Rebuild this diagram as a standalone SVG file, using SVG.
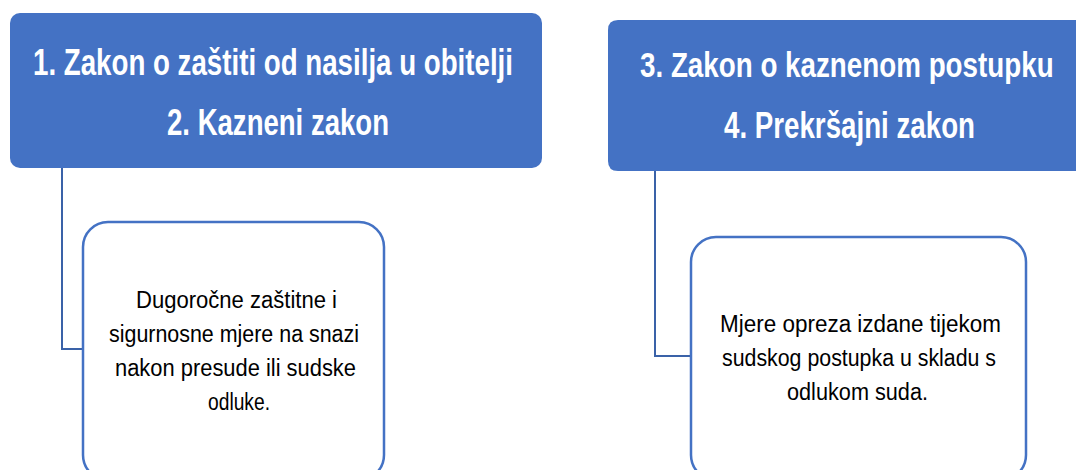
<svg xmlns="http://www.w3.org/2000/svg" width="1076" height="470" viewBox="0 0 1076 470">
<style>
.head{fill:#4472C4;}
.child{fill:#FFFFFF;stroke:#4472C4;stroke-width:2.5;}
.conn{fill:none;stroke:#3A62A8;stroke-width:2;}
.ht{font-family:"Liberation Sans",Arial,sans-serif;font-weight:bold;font-size:36px;fill:#FFFFFF;}
.ct{font-family:"Liberation Sans",Arial,sans-serif;font-size:23px;fill:#000000;}
</style>
<rect width="1076" height="470" fill="#FFFFFF"/>
<g id="connectors">
<path class="conn" d="M62 168 V349 H83"/>
<path class="conn" d="M655 171 V356 H691"/>
</g>
<g id="head1">
<rect class="head" x="10" y="13" width="532" height="155" rx="10"/>
<text class="ht" x="33" y="75" textLength="480" lengthAdjust="spacingAndGlyphs">1. Zakon o zaštiti od nasilja u obitelji</text>
<text class="ht" x="167" y="135" textLength="222" lengthAdjust="spacingAndGlyphs">2. Kazneni zakon</text>
</g>
<g id="head2">
<path class="head" d="M618 20 H1076 V171 H618 Q608 171 608 161 V30 Q608 20 618 20 Z"/>
<text class="ht" transform="translate(640,77) scale(0.772,1)" x="0" y="0">3. Zakon o kaznenom postupku</text>
<text class="ht" x="724" y="138" textLength="251" lengthAdjust="spacingAndGlyphs">4. Prekršajni zakon</text>
</g>
<g id="child1">
<rect class="child" x="83" y="222" width="301" height="258" rx="25"/>
<text class="ct" x="136" y="308" textLength="201" lengthAdjust="spacingAndGlyphs">Dugoročne zaštitne i</text>
<text class="ct" x="109" y="342" textLength="250" lengthAdjust="spacingAndGlyphs">sigurnosne mjere na snazi</text>
<text class="ct" x="115" y="376" textLength="241" lengthAdjust="spacingAndGlyphs">nakon presude ili sudske</text>
<text class="ct" x="208" y="410" textLength="62" lengthAdjust="spacingAndGlyphs">odluke.</text>
</g>
<g id="child2">
<rect class="child" x="691" y="237" width="335" height="243" rx="25"/>
<text class="ct" x="720" y="332" textLength="281" lengthAdjust="spacingAndGlyphs">Mjere opreza izdane tijekom</text>
<text class="ct" x="722" y="366" textLength="274" lengthAdjust="spacingAndGlyphs">sudskog postupka u skladu s</text>
<text class="ct" x="787" y="400" textLength="141" lengthAdjust="spacingAndGlyphs">odlukom suda.</text>
</g>
</svg>
